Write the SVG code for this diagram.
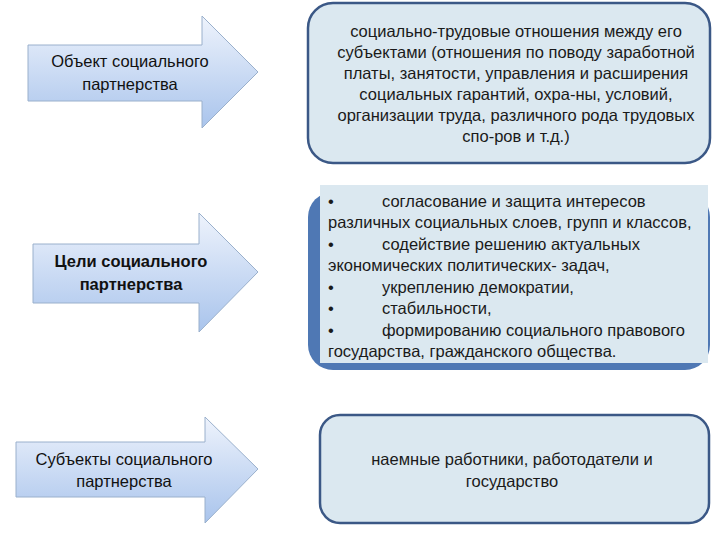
<svg xmlns="http://www.w3.org/2000/svg" width="720" height="540" viewBox="0 0 720 540">
<defs>
<linearGradient id="ag" x1="0" y1="0" x2="0" y2="1">
<stop offset="0" stop-color="#eef3fc"/>
<stop offset="1" stop-color="#a9c4ec"/>
</linearGradient>
</defs>
<style>
.arrow{fill:url(#ag);stroke:#9ab0cc;stroke-width:1}
.box{fill:#dbe8f0;stroke:#3b5886;stroke-width:2.5}
.t{font-family:"Liberation Sans",Arial,sans-serif;font-size:16.5px;fill:#1a1a1a}
.a{font-size:16.5px;fill:#111111}
.c{text-anchor:middle}
.b{font-weight:bold}
</style>
<rect width="720" height="540" fill="#ffffff"/>
<g id="arrow1">
<polygon class="arrow" points="28,45 202,45 202,16 258,72 202,128 202,101 28,101"/>
<text class="t a c" x="130" y="67">Объект социального</text>
<text class="t a c" x="130" y="90">партнерства</text>
</g>
<g id="arrow2">
<polygon class="arrow" points="33,244 199,244 199,213 258,272 199,332 199,303 33,303"/>
<text class="t a c b" x="131" y="267">Цели социального</text>
<text class="t a c b" x="131" y="290">партнерства</text>
</g>
<g id="arrow3">
<polygon class="arrow" points="16,442 205,442 205,417 258,469 205,523 205,497 16,497"/>
<text class="t a c" x="124" y="465">Субъекты социального</text>
<text class="t a c" x="124" y="487">партнерства</text>
</g>
<g id="box1">
<rect class="box" x="308" y="3" width="402" height="160" rx="25"/>
<text class="t c" x="516" y="37">социально-трудовые отношения между его</text>
<text class="t c" x="516" y="58">субъектами (отношения по поводу заработной</text>
<text class="t c" x="516" y="79">платы, занятости, управления и расширения</text>
<text class="t c" x="516" y="100">социальных гарантий, охра-ны, условий,</text>
<text class="t c" x="516" y="121">организации труда, различного рода трудовых</text>
<text class="t c" x="516" y="142">спо-ров и т.д.)</text>
</g>
<g id="box2">
<rect x="308" y="192" width="402" height="178" rx="25" fill="#4f78b4"/>
<rect x="320" y="185" width="388" height="178" fill="#dbe8f0"/>
<text class="t" x="328" y="207">•<tspan x="382">согласование и защита интересов</tspan></text>
<text class="t" x="328" y="228">различных социальных слоев, групп и классов,</text>
<text class="t" x="328" y="250">•<tspan x="382">содействие решению актуальных</tspan></text>
<text class="t" x="328" y="271">экономических политических- задач,</text>
<text class="t" x="328" y="293">•<tspan x="382">укреплению демократии,</tspan></text>
<text class="t" x="328" y="314">•<tspan x="382">стабильности,</tspan></text>
<text class="t" x="328" y="336">•<tspan x="382">формированию социального правового</tspan></text>
<text class="t" x="328" y="357">государства, гражданского общества.</text>
</g>
<g id="box3">
<rect class="box" x="320" y="415" width="389" height="108" rx="20"/>
<text class="t c" x="512" y="465">наемные работники, работодатели и</text>
<text class="t c" x="512" y="487">государство</text>
</g>
<g id="connectors"></g>
</svg>
